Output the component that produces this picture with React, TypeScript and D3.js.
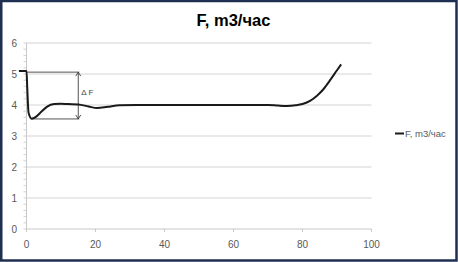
import React from "react";
import * as d3 from "d3";

const TITLE = "F, m3/час";
const SERIES_NAME = "F, m3/час";
const xTicks = [0, 20, 40, 60, 80, 100];
const yTicks = [0, 1, 2, 3, 4, 5, 6];
const xs = [-2.2, 0, 0.2, 0.6, 1.5, 2.5, 4, 6, 8, 10, 12, 15, 18, 20.5, 23.5, 27, 32, 40, 50, 60, 70, 73, 75.5, 78, 80, 82.3, 84.2, 86, 88, 90, 91.2];
const ys = [5.1, 5.1, 4.6, 3.75, 3.56, 3.6, 3.75, 3.95, 4.03, 4.04, 4.03, 4.02, 3.95, 3.9, 3.94, 3.99, 4.0, 4.0, 4.0, 4.0, 4.0, 3.98, 3.97, 3.99, 4.03, 4.14, 4.3, 4.5, 4.8, 5.12, 5.31];
// annotation ΔF
const annX = 15;
const annTop = 5.06;
const annBottom = 3.55;
const annTopStart = 0;
const annBottomStart = 1.5;
const ANN_LABEL = "Δ F";

const W = 458, H = 262;
const left = 26.5, right = 371.5, top = 43, bottom = 229;

export default function App() {
  const x = d3.scaleLinear().domain([0, 100]).range([left, right]);
  const y = d3.scaleLinear().domain([0, 6]).range([bottom, top]);
  const data = xs.map((v, i) => [v, ys[i]] as [number, number]);
  const line = d3.line<[number, number]>().x(d => x(d[0])).y(d => y(d[1])).curve(d3.curveMonotoneX);
  const minor: number[] = [];
  for (let v = 0; v <= 6.0001; v += 0.2) minor.push(v);
  const font = "'Liberation Sans', Arial, sans-serif";
  const ax = x(annX);
  const arrow = (yy: number, dir: number) => `M${ax - 2.5},${yy + dir * 4} L${ax},${yy} L${ax + 2.5},${yy + dir * 4}`;
  return (
    <svg width={W} height={H} style={{ position: "absolute", left: 0, top: 0 }}>
      <rect x={0} y={0} width={W} height={H} fill="#ffffff" />
      <rect x={1.25} y={1} width={W - 2.75} height={H - 2.5} fill="none" stroke="#1f2f52" strokeWidth={2.5} />
      <text x={233.5} y={26} textAnchor="middle" fontFamily={font} fontWeight="bold" fontSize={16.5} fill="#000">{TITLE}</text>
      {yTicks.filter(t => t > 0).map(t => (
        <line key={"g" + t} x1={left} x2={right} y1={y(t)} y2={y(t)} stroke="#d4d4d4" strokeWidth={1} />
      ))}
      {minor.map((t, i) => (
        <line key={"m" + i} x1={left - 3} x2={left} y1={y(t)} y2={y(t)} stroke="#c8c8c8" strokeWidth={0.8} />
      ))}
      <line x1={left} x2={left} y1={top} y2={bottom} stroke="#c8c8c8" strokeWidth={1} />
      <line x1={left} x2={right} y1={bottom} y2={bottom} stroke="#c8c8c8" strokeWidth={1} />
      {xTicks.map(t => (
        <line key={"xt" + t} x1={x(t)} x2={x(t)} y1={bottom} y2={bottom + 3} stroke="#c8c8c8" strokeWidth={1} />
      ))}
      {yTicks.map(t => (
        <text key={"yl" + t} x={17} y={y(t) + 3.5} textAnchor="end" fontFamily={font} fontSize={10} fill="#595959">{t}</text>
      ))}
      {xTicks.map(t => (
        <text key={"xl" + t} x={x(t)} y={247.5} textAnchor="middle" fontFamily={font} fontSize={10} fill="#595959">{t}</text>
      ))}
      <line x1={x(annTopStart)} x2={ax + 1} y1={y(annTop)} y2={y(annTop)} stroke="#404040" strokeWidth={0.9} />
      <line x1={x(annBottomStart)} x2={ax + 1} y1={y(annBottom)} y2={y(annBottom)} stroke="#404040" strokeWidth={0.9} />
      <line x1={ax} x2={ax} y1={y(annTop)} y2={y(annBottom)} stroke="#404040" strokeWidth={0.9} />
      <path d={arrow(y(annTop), 1)} fill="none" stroke="#404040" strokeWidth={0.9} />
      <path d={arrow(y(annBottom), -1)} fill="none" stroke="#404040" strokeWidth={0.9} />
      <text x={ax + 3} y={95} fontFamily={font} fontSize={8} fill="#404040">{ANN_LABEL}</text>
      <path d={line(data) || ""} fill="none" stroke="#1a1a1a" strokeWidth={2} strokeLinejoin="round" />
      <line x1={395} x2={404} y1={133.5} y2={133.5} stroke="#1a1a1a" strokeWidth={2} />
      <text x={405} y={137} fontFamily={font} fontSize={9.5} fill="#595959">{SERIES_NAME}</text>
    </svg>
  );
}
